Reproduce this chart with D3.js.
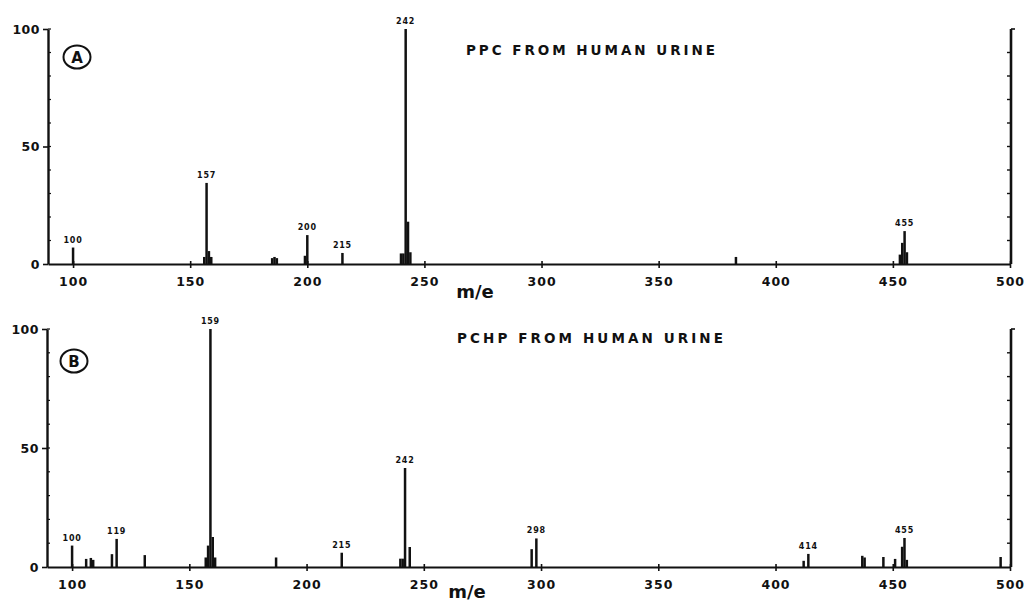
<!DOCTYPE html>
<html>
<head>
<meta charset="utf-8">
<script src="https://cdn.jsdelivr.net/npm/d3@7"></script>
<style>
  body { margin: 0; background: #fff; }
  svg { display: block; }
  text { font-family: "DejaVu Sans", sans-serif; fill: #111; }
</style>
</head>
<body>
<svg id="chart"></svg>
<script>
const width = 1033
const height = 603

const xTicks = [100, 150, 200, 250, 300, 350, 400, 450, 500]
const yTicks = [0, 50, 100]
const minorTicks = [10, 20, 30, 40, 50, 60, 70, 80, 90, 100]

// (A) PPC from human urine
const mzA  = [100, 156, 157, 158, 159, 185, 186, 187, 199, 200, 215, 240, 241, 242, 243, 244, 383, 453, 454, 455, 456]
const relA = [7, 3, 34.5, 5.5, 3, 2.5, 3, 2.5, 3.5, 12.3, 4.7, 4.5, 4.5, 100, 18, 5, 3, 4, 9, 14, 5]
const labelsA = [100, 157, 200, 215, 242, 455]

// (B) PCHP from human urine
const mzB  = [100, 106, 108, 109, 117, 119, 131, 157, 158, 159, 160, 161, 187, 215, 240, 241, 242, 244, 296, 298, 412, 414, 437, 438, 446, 451, 454, 455, 456, 496]
const relB = [9, 3.4, 3.8, 3, 5.4, 11.8, 5, 4, 9, 100, 12.6, 4, 4, 6, 3.5, 3.5, 41.6, 8.4, 7.5, 12, 2.6, 5.5, 4.7, 4, 4.2, 3.4, 8.5, 12.2, 3, 4.2]
const labelsB = [100, 119, 159, 215, 242, 298, 414, 455]

const panels = [
  { tag: 'A', title: 'PPC  FROM  HUMAN  URINE', mz: mzA, rel: relA, labels: labelsA,
    top: 29, base: 264, left: 48, circle: [77, 57], titleX: 466, titleY: 55, titleW: 249, xlab: [475, 298] },
  { tag: 'B', title: 'PCHP  FROM  HUMAN  URINE', mz: mzB, rel: relB, labels: labelsB,
    top: 329, base: 567, left: 47, circle: [74, 361], titleX: 457, titleY: 343, titleW: 266, xlab: [467, 598] }
]

const svg = d3.select('#chart')
  .attr('width', width)
  .attr('height', height)

svg.append('rect').attr('width', width).attr('height', height).attr('fill', '#fff')

panels.forEach(p => {
  const g = svg.append('g')

  const x = d3.scaleLinear().domain([89.3, 500]).range([p.left, 1010])
  const y = d3.scaleLinear().domain([0, 100]).range([p.base, p.top])

  /// x axis ///
  g.append('g')
    .attr('transform', `translate(0, ${p.base})`)
    .call(d3.axisBottom(x).tickValues(xTicks).tickSize(4).tickSizeOuter(0).tickPadding(9))
    .call(a => a.select('.domain').attr('stroke', '#111').attr('stroke-width', 2.2))
    .call(a => a.selectAll('.tick line').attr('stroke', '#111').attr('stroke-width', 1.6).attr('y1', -3))
    .call(a => a.selectAll('.tick text')
      .attr('font-size', '12.5px')
      .attr('font-weight', 'bold')
      .attr('letter-spacing', '1px')
      .attr('fill', '#111'))

  /// left y axis ///
  g.append('g')
    .attr('transform', `translate(${p.left}, 0)`)
    .call(d3.axisLeft(y).tickValues(yTicks).tickSize(5).tickSizeOuter(0).tickPadding(3))
    .call(a => a.select('.domain').attr('stroke', '#111').attr('stroke-width', 2.4))
    .call(a => a.selectAll('.tick line').attr('stroke', '#111').attr('stroke-width', 1.6))
    .call(a => a.selectAll('.tick text')
      .attr('font-size', '12.5px')
      .attr('font-weight', 'bold')
      .attr('letter-spacing', '0.5px')
      .attr('fill', '#111'))

  // small marks inside the left axis
  g.selectAll('.minor-l')
    .data(minorTicks)
    .join('line')
      .attr('x1', p.left).attr('x2', p.left + 3)
      .attr('y1', d => y(d)).attr('y2', d => y(d))
      .attr('stroke', '#111').attr('stroke-width', 1.2)

  /// right y axis ///
  const xr = x(500) + 1
  g.append('line')
    .attr('x1', xr).attr('x2', xr)
    .attr('y1', y(0)).attr('y2', y(100))
    .attr('stroke', '#111').attr('stroke-width', 2.6)
  g.append('line')
    .attr('x1', xr).attr('x2', xr + 4)
    .attr('y1', y(100)).attr('y2', y(100))
    .attr('stroke', '#111').attr('stroke-width', 1.6)
  g.selectAll('.minor-r')
    .data(minorTicks.slice(0, -1))
    .join('line')
      .attr('x1', xr - 4).attr('x2', xr)
      .attr('y1', d => y(d)).attr('y2', d => y(d))
      .attr('stroke', '#111').attr('stroke-width', 1.4)

  /// peaks ///
  const peaks = p.mz.map((m, i) => ({ mz: m, rel: p.rel[i] }))
  g.selectAll('.peak')
    .data(peaks)
    .join('line')
      .attr('x1', d => x(d.mz)).attr('x2', d => x(d.mz))
      .attr('y1', y(0)).attr('y2', d => y(d.rel))
      .attr('stroke', '#111')
      .attr('stroke-width', 2.5)

  // peak labels
  g.selectAll('.peak-label')
    .data(peaks.filter(d => p.labels.includes(d.mz)))
    .join('text')
      .attr('x', d => x(d.mz))
      .attr('y', d => y(d.rel) - 5)
      .attr('text-anchor', 'middle')
      .attr('font-size', '8px')
      .attr('font-weight', 'bold')
      .attr('letter-spacing', '0.8px')
      .text(d => d.mz)

  /// title, tag, axis label ///
  g.append('text')
    .attr('x', p.titleX).attr('y', p.titleY)
    .attr('font-size', '13.5px')
    .attr('font-weight', 'bold')
    .attr('textLength', p.titleW)
    .attr('lengthAdjust', 'spacing')
    .text(p.title)

  g.append('ellipse')
    .attr('cx', p.circle[0]).attr('cy', p.circle[1])
    .attr('rx', 13.5).attr('ry', 11.5)
    .attr('fill', 'none').attr('stroke', '#111').attr('stroke-width', 2)
  g.append('text')
    .attr('x', p.circle[0]).attr('y', p.circle[1] + 5.5)
    .attr('text-anchor', 'middle')
    .attr('font-size', '15px')
    .attr('font-weight', 'bold')
    .text(p.tag)

  g.append('text')
    .attr('x', p.xlab[0]).attr('y', p.xlab[1])
    .attr('text-anchor', 'middle')
    .attr('font-size', '18px')
    .attr('font-weight', 'bold')
    .text('m/e')
})
</script>
</body>
</html>
